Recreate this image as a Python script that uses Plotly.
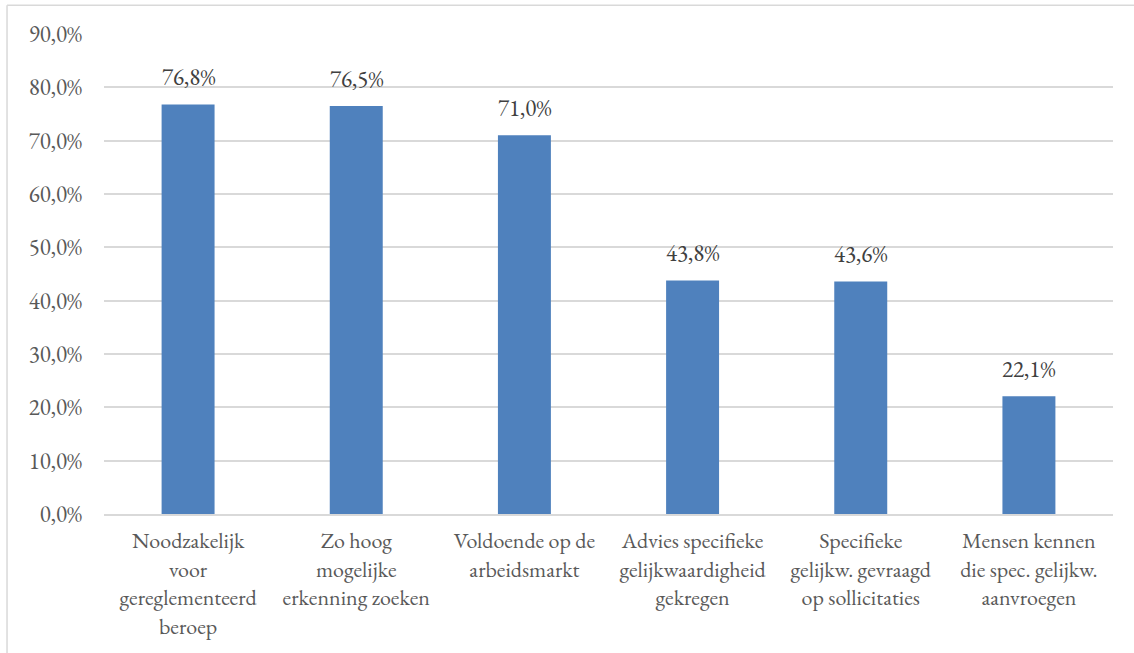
import plotly.graph_objects as go

categories = [
    "Noodzakelijk<br>voor<br>gereglementeerd<br>beroep",
    "Zo hoog<br>mogelijke<br>erkenning zoeken",
    "Voldoende op de<br>arbeidsmarkt",
    "Advies specifieke<br>gelijkwaardigheid<br>gekregen",
    "Specifieke<br>gelijkw. gevraagd<br>op sollicitaties",
    "Mensen kennen<br>die spec. gelijkw.<br>aanvroegen",
]
percentages = [76.8, 76.5, 71.0, 43.8, 43.6, 22.1]
y_ticks = [0, 10, 20, 30, 40, 50, 60, 70, 80, 90]
y_tick_labels = [f"{v:.1f}%".replace(".", ",") for v in y_ticks]
value_labels = [f"{v:.1f}%".replace(".", ",") for v in percentages]

font_family = "EB Garamond, Garamond, Liberation Serif, serif"
font_size = 23

fig = go.Figure(
    go.Bar(
        x=categories,
        y=percentages,
        marker=dict(color="#4f81bd", line=dict(width=0)),
        width=0.315,
    )
)

# value labels above each bar
for cat, val, label in zip(categories, percentages, value_labels):
    fig.add_annotation(
        x=cat, y=val, text=label,
        xref="x", yref="y",
        showarrow=False,
        yanchor="bottom",
        yshift=10,
        font=dict(family=font_family, size=font_size, color="#404040"),
    )

fig.update_layout(
    width=1134,
    height=653,
    margin=dict(l=104, r=21, t=34, b=136),
    paper_bgcolor="white",
    plot_bgcolor="white",
    showlegend=False,
    font=dict(family=font_family, size=font_size, color="#595959"),
    xaxis=dict(
        showgrid=False,
        showline=True,
        linecolor="#d9d9d9",
        linewidth=1.5,
        ticks="",
        tickangle=0,
        ticklabelstandoff=6,
        tickfont=dict(family=font_family, size=22, color="#595959"),
    ),
    yaxis=dict(
        range=[0, 90],
        tickmode="array",
        tickvals=y_ticks,
        ticktext=y_tick_labels,
        showgrid=True,
        gridcolor="#d9d9d9",
        gridwidth=1.5,
        zeroline=False,
        showline=False,
        ticks="",
        ticklabelstandoff=21,
        tickfont=dict(family=font_family, size=font_size, color="#595959"),
    ),
    shapes=[
        dict(type="line", xref="paper", yref="paper",
             x0=-0.0961, x1=-0.0961, y0=-0.4, y1=1.06,
             line=dict(color="#d9d9d9", width=1.5)),
        dict(type="line", xref="paper", yref="paper",
             x0=-0.0961, x1=1.1, y0=1.06, y1=1.06,
             line=dict(color="#d9d9d9", width=1.5)),
    ],
)

fig.write_html("out.html")
